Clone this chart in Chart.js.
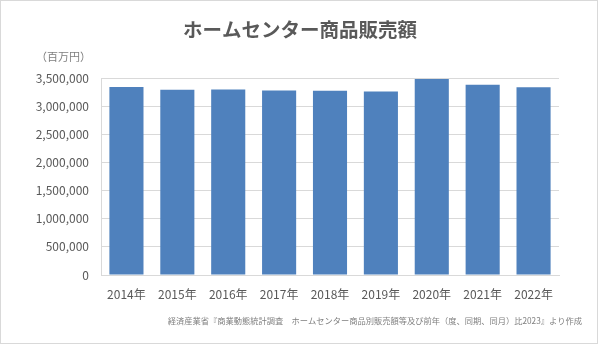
<!DOCTYPE html>
<html lang="ja">
<head>
<meta charset="utf-8">
<title>ホームセンター商品販売額</title>
<script src="https://cdn.jsdelivr.net/npm/chart.js@4.4.1/dist/chart.umd.min.js"></script>
<style>
    html, body { margin: 0; padding: 0; background: #fff; }
    #wrap { width: 599px; height: 345px; position: relative; }
</style>
</head>
<body>
<div id="wrap"><canvas id="salesChart"></canvas></div>
<script>
// data (unit: million yen)
var years = ['2014年', '2015年', '2016年', '2017年', '2018年', '2019年', '2020年', '2021年', '2022年'];
var sales = [3339000, 3291000, 3297000, 3280000, 3273000, 3262000, 3482000, 3380000, 3334000];

var titleText = 'ホームセンター商品販売額';
var unitText = '（百万円）';
var sourceText = '経済産業省『商業動態統計調査　ホームセンター商品別販売額等及び前年（度、同期、同月）比2023』より作成';

var jpFont = '"Noto Sans CJK JP", "Noto Sans", sans-serif';

// title, unit label, source note and the outer frame
var decorations = {
    id: 'decorations',
    afterDraw: function (chart) {
        var ctx = chart.ctx;
        ctx.save();
        ctx.strokeStyle = '#d9d9d9';
        ctx.lineWidth = 1;
        ctx.strokeRect(0.5, 0.5, 597, 343);

        ctx.textBaseline = 'middle';
        ctx.fillStyle = '#595959';
        ctx.font = 'bold 19.5px ' + jpFont;
        ctx.textAlign = 'center';
        ctx.fillText(titleText, 300, 30);

        ctx.font = '11px ' + jpFont;
        ctx.textAlign = 'left';
        ctx.fillStyle = '#7f7f7f';
        ctx.fillText(unitText, 36, 57);

        ctx.font = '8.25px ' + jpFont;
        ctx.textAlign = 'right';
        ctx.fillStyle = '#7f7f7f';
        ctx.fillText(sourceText, 582, 321);
        ctx.restore();
    }
};

var ctxBar = document.getElementById('salesChart').getContext('2d');
new Chart(ctxBar, {
    type: 'bar',
    data: {
        labels: years,
        datasets: [{
            label: '販売額',
            data: sales,
            backgroundColor: '#4f81bd',
            borderWidth: 0,
            categoryPercentage: 1,
            barPercentage: 0.67
        }]
    },
    options: {
        responsive: true,
        maintainAspectRatio: false,
        animation: false,
        layout: {
            padding: { top: 78, right: 40, bottom: 0, left: 0 }
        },
        plugins: {
            legend: { display: false },
            tooltip: { enabled: false }
        },
        scales: {
            x: {
                grid: { display: false },
                border: { display: true, color: '#d9d9d9' },
                ticks: {
                    color: '#595959',
                    padding: 4,
                    font: { family: jpFont, size: 12 }
                },
                afterFit: function (scale) { scale.height = 70; }
            },
            y: {
                min: 0,
                max: 3500000,
                grid: { color: '#d9d9d9', drawTicks: false },
                border: { display: true, color: '#d9d9d9' },
                ticks: {
                    stepSize: 500000,
                    color: '#595959',
                    padding: 12,
                    font: { family: jpFont, size: 12 },
                    callback: function (v) { return v.toLocaleString('en-US'); }
                },
                afterFit: function (scale) { scale.width = 101; }
            }
        }
    },
    plugins: [decorations]
});
</script>
</body>
</html>
